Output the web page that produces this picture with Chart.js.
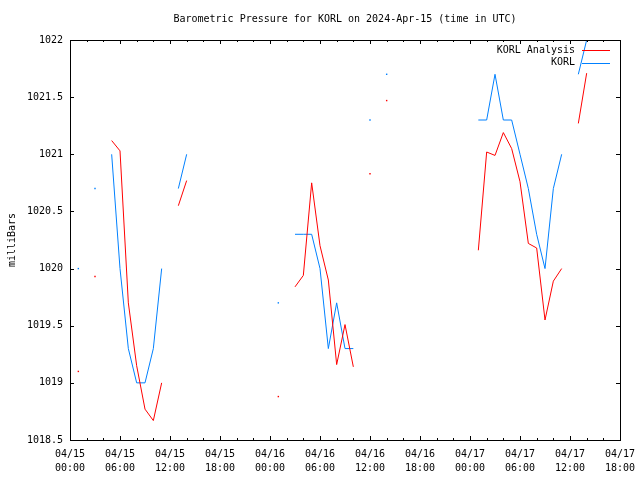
<!DOCTYPE html>
<html>
<head>
<meta charset="utf-8">
<script src="https://cdn.jsdelivr.net/npm/chart.js@4/dist/chart.umd.min.js"></script>
<style>
  html, body { margin: 0; padding: 0; background: #fff; }
</style>
</head>
<body>
<canvas id="chart" width="640" height="480"></canvas>
<script>
// hours since 04/15 00:00 UTC
var hours = [0, 1, 2, 3, 4, 5, 6, 7, 8, 9, 10, 11, 12, 13, 14, 15, 16, 17, 18, 19, 20,
    21, 22, 23, 24, 25, 26, 27, 28, 29, 30, 31, 32, 33, 34, 35, 36, 37, 38, 39, 40,
    41, 42, 43, 44, 45, 46, 47, 48, 49, 50, 51, 52, 53, 54, 55, 56, 57, 58, 59, 60,
    61, 62];

var korlAnalysis = [null, 1019.10, null, 1019.93, null, 1021.12, 1021.03, 1019.70, 1019.15, 1018.77, 1018.67,
    1019.00, null, 1020.55, 1020.77, null, null, null, null, null, null,
    null, null, null, null, 1018.88, null, 1019.84, 1019.94, 1020.75, 1020.20,
    1019.90, 1019.16, 1019.51, 1019.14, null, 1020.83, null, 1021.47, null, null,
    null, null, null, null, null, null, null, null, 1020.16, 1021.02,
    1020.99, 1021.19, 1021.05, 1020.76, 1020.22, 1020.18, 1019.55, 1019.89, 1020.00, null,
    1021.27, 1021.71];

var korl = [null, 1020.0, null, 1020.7, null, 1021.0, 1020.0, 1019.3, 1019.0, 1019.0, 1019.3,
    1020.0, null, 1020.7, 1021.0, null, null, null, null, null, null,
    null, null, null, null, 1019.7, null, 1020.3, 1020.3, 1020.3, 1020.0,
    1019.3, 1019.7, 1019.3, 1019.3, null, 1021.3, null, 1021.7, null, null,
    null, null, null, null, null, null, null, null, 1021.3, 1021.3,
    1021.7, 1021.3, 1021.3, 1021.0, 1020.7, 1020.3, 1020.0, 1020.7, 1021.0, null,
    1021.7, 1022.0];

var tickDays = ["04/15", "04/15", "04/15", "04/15", "04/16", "04/16", "04/16", "04/16", "04/17", "04/17", "04/17", "04/17"];
var tickTimes = ["00:00", "06:00", "12:00", "18:00", "00:00", "06:00", "12:00", "18:00", "00:00", "06:00", "12:00", "18:00"];

Chart.defaults.font.family = "'DejaVu Sans Mono', monospace";
Chart.defaults.font.size = 10;
Chart.defaults.color = "#000";

function points(values) {
    return hours.map(function (h, i) { return { x: h, y: values[i] }; });
}

// a lone reading between gaps gets a tiny dot, like the original
function loneDot(ctx) {
    var d = ctx.dataset.data, i = ctx.dataIndex;
    var prev = d[i - 1], next = d[i + 1];
    var noPrev = !prev || prev.y == null, noNext = !next || next.y == null;
    return noPrev && noNext ? 1 : 0;
}

var frame = {
    id: "frame",
    afterDraw: function (chart) {
        var ctx = chart.ctx, a = chart.chartArea, x = chart.scales.x, y = chart.scales.y;
        ctx.save();
        ctx.strokeStyle = "#000";
        ctx.lineWidth = 1;
        ctx.strokeRect(a.left + 0.5, a.top + 0.5, a.right - a.left, a.bottom - a.top);
        ctx.beginPath();
        for (var h = 0; h <= 66; h += 2) {
            var px = Math.round(x.getPixelForValue(h)) + 0.5;
            var len = h % 6 === 0 ? 4 : 2;
            ctx.moveTo(px, a.bottom);
            ctx.lineTo(px, a.bottom - len);
            ctx.moveTo(px, a.top);
            ctx.lineTo(px, a.top + len);
        }
        y.ticks.forEach(function (t) {
            var py = Math.round(y.getPixelForValue(t.value)) + 0.5;
            ctx.moveTo(a.left, py);
            ctx.lineTo(a.left + 4, py);
            ctx.moveTo(a.right, py);
            ctx.lineTo(a.right - 4, py);
        });
        ctx.stroke();

        // legend, top right inside the plot
        ctx.font = "10px 'DejaVu Sans Mono', monospace";
        ctx.textAlign = "right";
        ctx.textBaseline = "middle";
        ctx.fillStyle = "#000";
        chart.data.datasets.forEach(function (ds, i) {
            var ly = a.top + 10 + i * 12.5;
            ctx.fillText(ds.label, a.right - 45, ly);
            ctx.beginPath();
            ctx.strokeStyle = ds.borderColor;
            ctx.moveTo(a.right - 38, Math.round(ly) + 0.5);
            ctx.lineTo(a.right - 10, Math.round(ly) + 0.5);
            ctx.stroke();
        });
        ctx.restore();
    }
};

var ctx = document.getElementById("chart");
new Chart(ctx, {
    type: "line",
    data: {
        datasets: [{
            label: "KORL Analysis",
            data: points(korlAnalysis),
            borderColor: "#ff0000",
            backgroundColor: "#ff0000",
            borderWidth: 1,
            pointStyle: "rect",
            pointRadius: loneDot,
            pointBorderWidth: 0,
            spanGaps: false
        }, {
            label: "KORL",
            data: points(korl),
            borderColor: "#0080ff",
            backgroundColor: "#0080ff",
            borderWidth: 1,
            pointStyle: "rect",
            pointRadius: loneDot,
            pointBorderWidth: 0,
            spanGaps: false
        }]
    },
    options: {
        responsive: false,
        animation: false,
        devicePixelRatio: 1,
        layout: { autoPadding: false, padding: { left: 0, right: 20, top: 0, bottom: 0 } },
        plugins: {
            legend: { display: false },
            tooltip: { enabled: false },
            title: {
                display: true,
                fullSize: false,
                text: "Barometric Pressure for KORL on 2024-Apr-15 (time in UTC)",
                color: "#000",
                font: { size: 10, weight: "normal", lineHeight: 1.2 },
                padding: { top: 13, bottom: 15 }
            }
        },
        scales: {
            x: {
                type: "linear",
                min: 0,
                max: 66,
                grid: { display: false, drawTicks: false },
                border: { display: false },
                afterFit: function (s) {
                    s.height = 40;
                    s.paddingLeft = 0;
                    s.paddingRight = 0;
                },
                ticks: {
                    stepSize: 6,
                    autoSkip: false,
                    maxRotation: 0,
                    padding: 8,
                    font: { size: 10, lineHeight: 1.33 },
                    callback: function (v) {
                        var i = v / 6;
                        return [tickDays[i], tickTimes[i]];
                    }
                }
            },
            y: {
                min: 1018.5,
                max: 1022,
                grid: { display: false, drawTicks: false },
                border: { display: false },
                afterFit: function (s) { s.width = 70; },
                title: {
                    display: true,
                    text: "milliBars",
                    color: "#000",
                    font: { size: 10 },
                    padding: { top: 6, bottom: 0 }
                },
                ticks: {
                    stepSize: 0.5,
                    padding: 7,
                    callback: function (v) { return String(v); }
                }
            }
        }
    },
    plugins: [frame]
});
</script>
</body>
</html>
